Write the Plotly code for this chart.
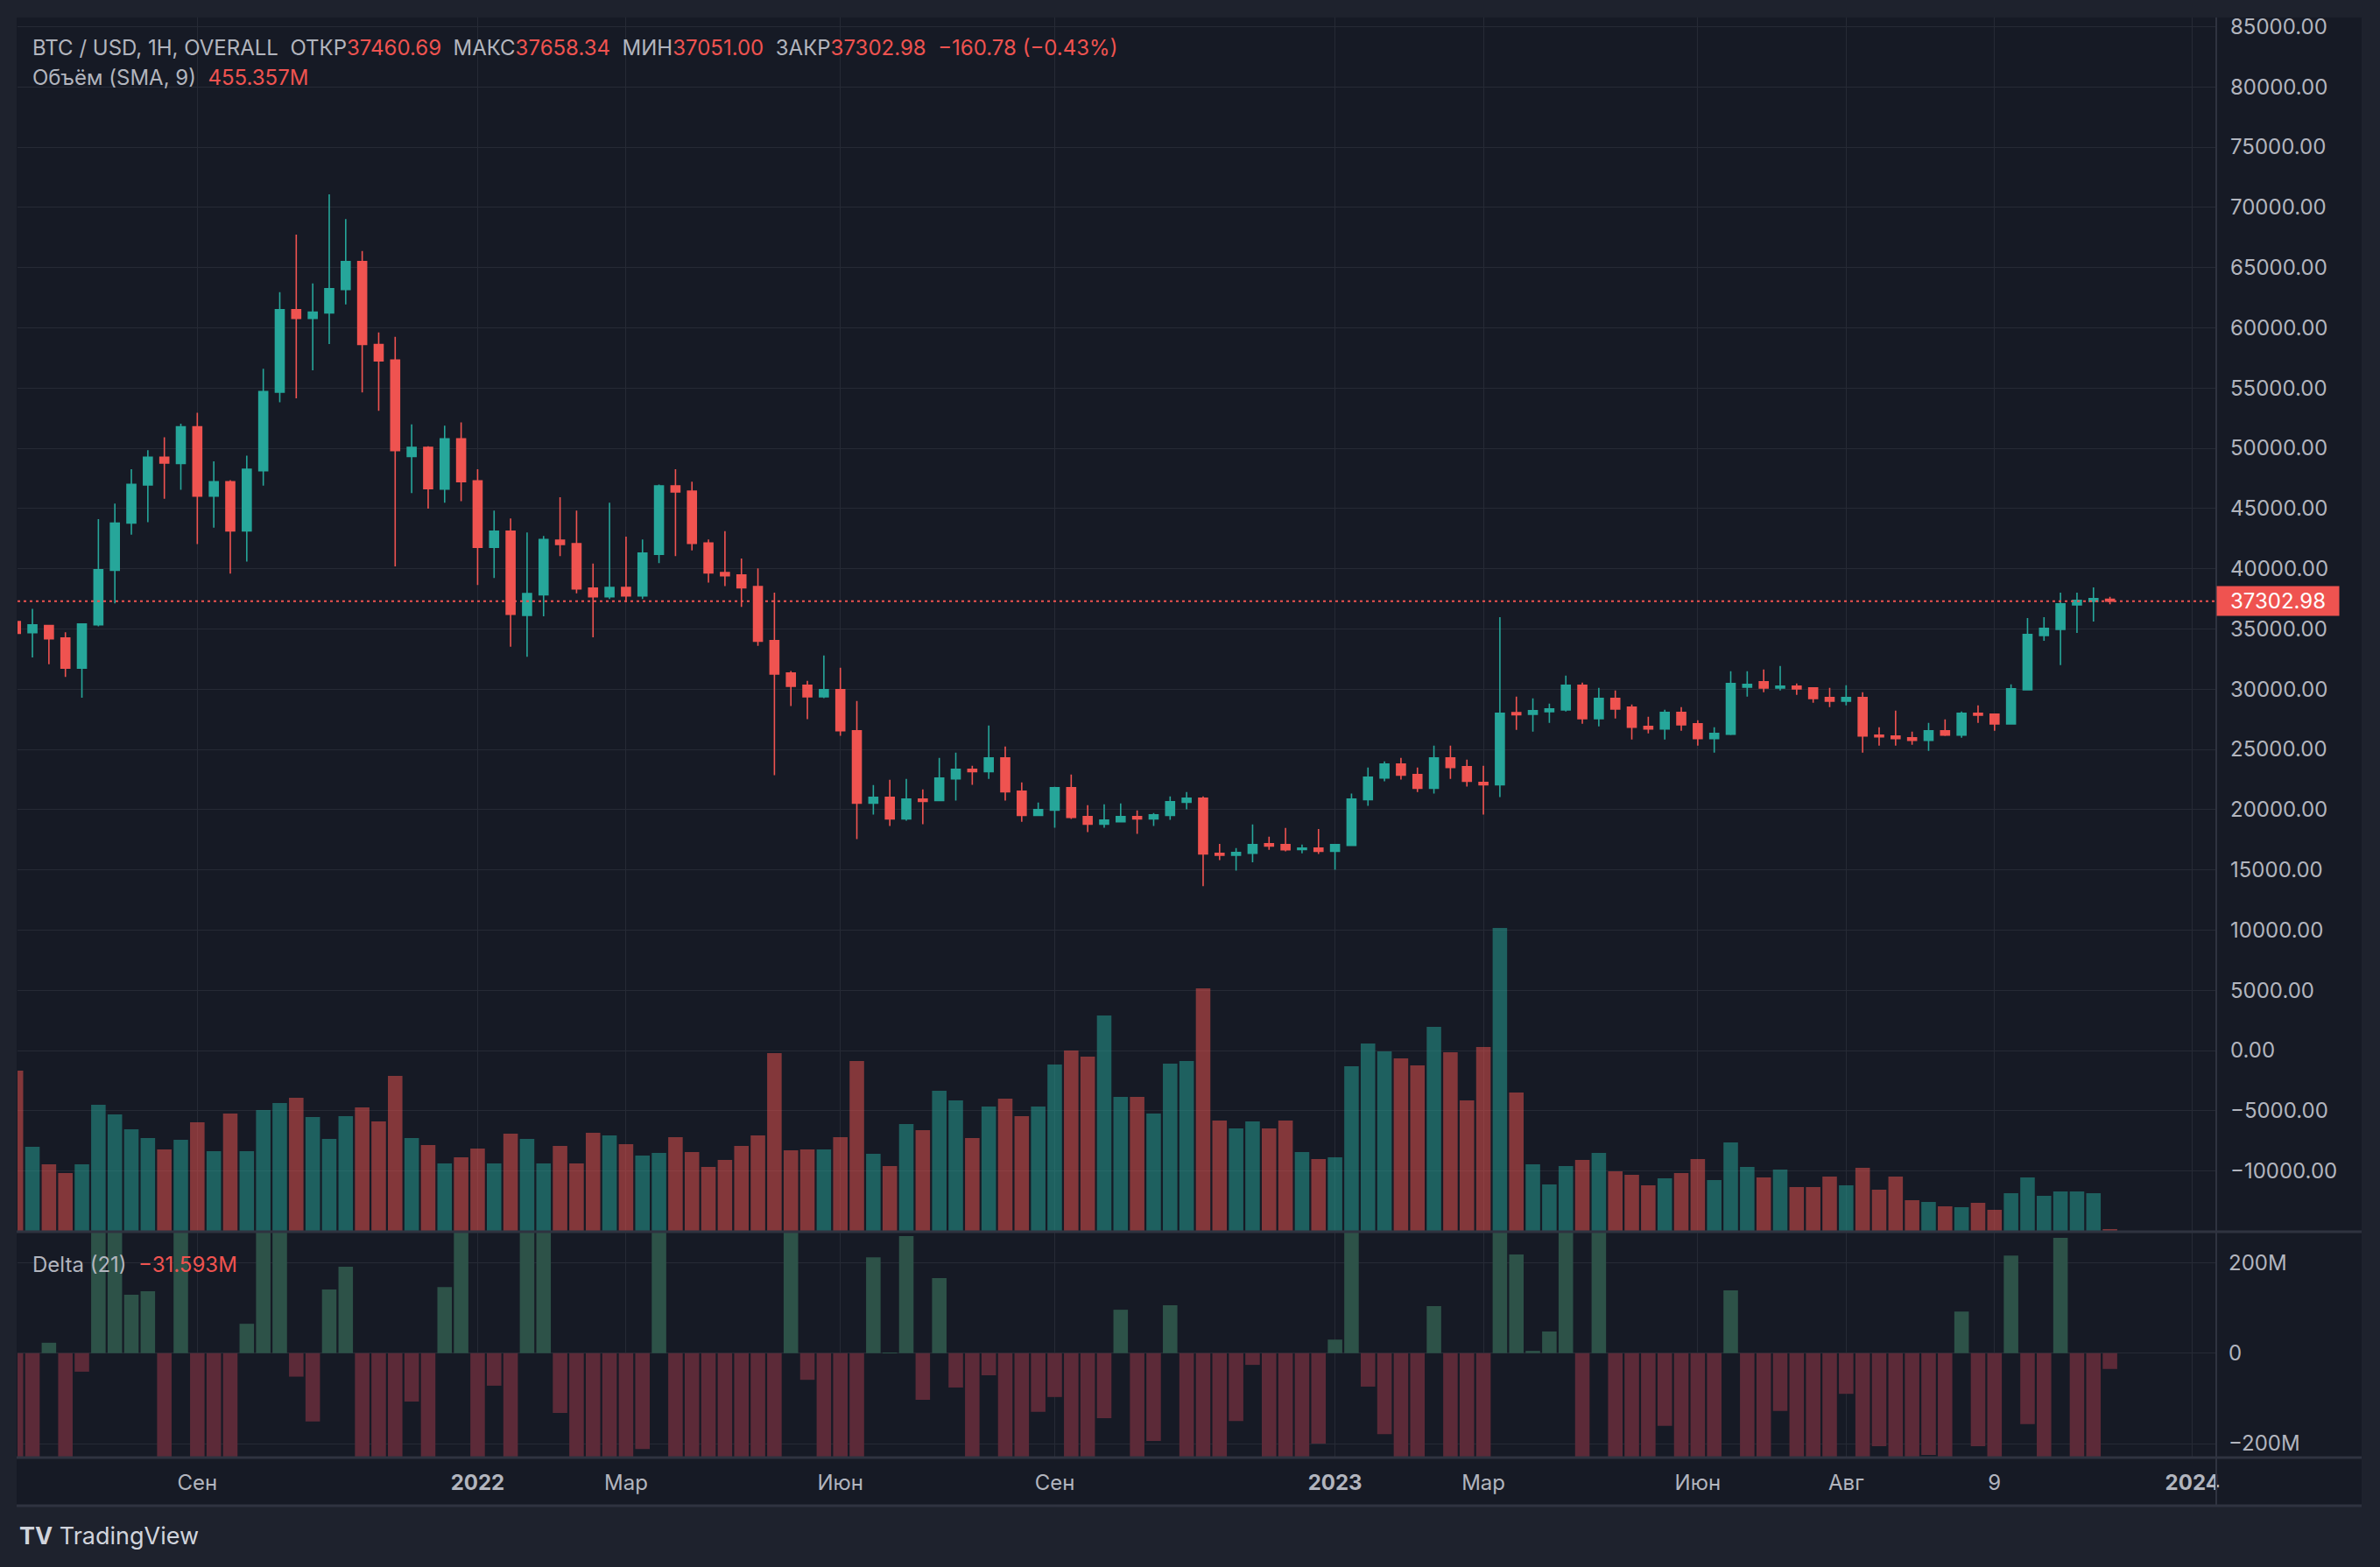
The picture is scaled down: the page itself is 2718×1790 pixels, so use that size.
import pandas as pd
import plotly.graph_objects as go

# weekly BTC/USD candles (first bar week of 2021-06-21)
opens = [35600, 34695, 35277, 34242, 31750, 35342, 39872, 43788, 46960, 49257,
         48740, 51782, 46021, 47218, 43141, 48124, 54661, 61489, 60777, 61230,
         63172, 65502, 58609, 57315, 49322, 50066, 46604, 50778, 47283, 41782,
         43108, 36119, 37834, 42365, 42073, 38384, 37672, 38449, 37737, 41200,
         46863, 46442, 42138, 39678, 39484, 38513, 34020, 31333, 30316, 29372,
         29953, 26539, 20535, 21019, 19228, 20874, 20753, 22545, 23343, 23150,
         24288, 21527, 19518, 19954, 21818, 19421, 18792, 18986, 19421, 19228,
         19518, 20608, 20947, 16371, 16202, 16371, 17170, 17097, 16686, 16807,
         16541, 17024, 20826, 22617, 23779, 22908, 21770, 24288, 23562, 22254,
         22060, 28040, 27919, 28137, 28282, 30316, 27556, 29227, 28500, 26903,
         26685, 28064, 27120, 25886, 26249, 30171, 30606, 30098, 30243, 30098,
         29300, 29009, 29300, 26176, 26104, 25958, 25740, 26539, 26176, 27992,
         27919, 27120, 29953, 34456, 34964, 36998, 37288, 37460.69]
highs = [36200, 36670, 35342, 34727, 35472, 44111, 45406, 48254, 49840, 50908,
         52040, 52946, 48901, 47348, 49387, 56603, 62946, 67735, 63690, 71068,
         69029, 66376, 59612, 59256, 51976, 50163, 51879, 52137, 48254, 44823,
         44176, 43012, 42721, 45924, 44823, 40423, 45471, 42656, 42429, 46992,
         48254, 47218, 42429, 43108, 40843, 40034, 38015, 31500, 30679, 32786,
         31769, 29009, 22036, 22472, 22545, 21673, 24288, 24723, 23634, 26975,
         25232, 22254, 20584, 21891, 22908, 20366, 20438, 20511, 19930, 19712,
         21091, 21455, 21091, 17146, 16807, 18768, 17751, 18478, 17097, 18381,
         17150, 21334, 23489, 23997, 24288, 23489, 25305, 25305, 24143, 23634,
         35981, 29372, 29227, 28791, 31115, 30534, 30098, 29881, 28718, 27701,
         28282, 28500, 27411, 26830, 31478, 31478, 31623, 31914, 30461, 30150,
         30098, 30316, 29735, 26830, 28210, 26467, 27193, 27483, 28137, 28645,
         27950, 30389, 35909, 35981, 38015, 38015, 38451, 37658.34]
lows = [33800, 32623, 32074, 31006, 29291, 35213, 37122, 42818, 43853, 45795,
        46539, 42041, 43400, 39581, 40585, 46895, 53820, 54144, 56474, 58642,
        61942, 54629, 53108, 40196, 46280, 44985, 45471, 45600, 38643, 39225,
        33530, 32689, 36054, 41038, 37963, 34307, 37478, 37219, 37478, 40455,
        41038, 41523, 38837, 38546, 36831, 33595, 22860, 28597, 27508, 29251,
        26128, 17557, 19590, 18647, 19083, 18792, 20700, 20753, 22060, 22545,
        20753, 18986, 19450, 18502, 19228, 18138, 18502, 18950, 17993, 18647,
        19155, 20027, 13636, 15815, 14943, 15621, 16662, 16541, 16371, 16323,
        15015, 17000, 20317, 22351, 22496, 21455, 21334, 22545, 21915, 19591,
        21044, 26612, 26467, 27193, 28137, 27120, 26903, 27556, 25813, 26322,
        25813, 26539, 25305, 24724, 26176, 29372, 29735, 29881, 29517, 28864,
        28500, 28645, 24724, 25305, 25305, 25377, 24869, 26104, 25958, 27193,
        26539, 27100, 29881, 34020, 31987, 34674, 35618, 37051.00]
closes = [34630, 35342, 34177, 31750, 35407, 39904, 43788, 46992, 49257, 48772,
          51782, 46021, 47218, 43141, 48254, 54694, 61489, 60777, 61295, 63237,
          65502, 58609, 57250, 49807, 50066, 46636, 50778, 47218, 41782, 43108,
          36216, 37931, 42429, 42009, 38320, 37672, 38449, 37737, 41297, 46863,
          46378, 42106, 39646, 39419, 38416, 33983, 31260, 30243, 29372, 29953,
          26539, 20535, 21019, 19228, 20874, 20680, 22617, 23343, 23150, 24288,
          21479, 19518, 20002, 21818, 19349, 18792, 19131, 19421, 19228, 19567,
          20656, 20947, 16323, 16202, 16444, 17097, 16976, 16662, 16807, 16541,
          17097, 20874, 22690, 23779, 22859, 21770, 24288, 23489, 22351, 22060,
          27992, 27870, 28210, 28355, 30316, 27556, 29227, 28355, 26830, 26685,
          28064, 27047, 25886, 26322, 30461, 30389, 30098, 30243, 30026, 29227,
          29009, 29300, 26104, 26031, 25886, 25740, 26539, 26176, 27992, 27847,
          27120, 30026, 34529, 35037, 37071, 37361, 37506, 37302.98]

# weekly volume, millions
volume = [2196, 1152, 912, 792, 912, 1728, 1596, 1392, 1272, 1116,
          1248, 1488, 1092, 1608, 1092, 1656, 1752, 1824, 1560, 1260,
          1572, 1692, 1500, 2124, 1272, 1176, 924, 1008, 1128, 924,
          1332, 1260, 924, 1164, 924, 1344, 1308, 1188, 1032, 1068,
          1284, 1080, 876, 972, 1164, 1308, 2436, 1104, 1116, 1116,
          1284, 2328, 1056, 888, 1464, 1380, 1920, 1788, 1272, 1704,
          1812, 1572, 1704, 2280, 2472, 2388, 2952, 1836, 1836, 1608,
          2292, 2328, 3324, 1512, 1404, 1500, 1404, 1512, 1080, 984,
          1008, 2256, 2568, 2460, 2364, 2268, 2796, 2448, 1788, 2520,
          4152, 1896, 912, 636, 888, 972, 1068, 816, 768, 624,
          720, 792, 984, 696, 1212, 876, 732, 840, 600, 600,
          744, 624, 864, 564, 744, 420, 396, 336, 324, 384,
          288, 516, 732, 480, 540, 540, 516, 24]

# Delta (21), millions
delta = [-260, -270, 23, -255, -41, 290, 280, 129, 137, -250,
         275, -265, -250, -270, 65, 310, 285, -52, -151, 141,
         191, -260, -280, -255, -107, -265, 146, 295, -250, -72,
         -260, 300, 285, -132, -260, -275, -250, -265, -212, 280,
         -255, -270, -260, -280, -265, -250, -290, 275, -59, -255,
         -265, -270, 212, 1, 259, -103, 166, -76, -260, -49,
         -265, -250, -130, -97, -270, -255, -144, 96, -260, -194,
         106, -255, -275, -260, -150, -26, -265, -250, -270, -200,
         30, 290, -74, -179, -260, -255, 104, -265, -250, -270,
         320, 218, 5, 48, 285, -260, 275, -255, -265, -250,
         -161, -260, -270, -255, 139, -265, -250, -128, -260, -255,
         -270, -90, -260, -206, -255, -265, -225, -250, 92, -206,
         -260, 216, -157, -255, 255, -265, -250, -35]

dates = pd.date_range("2021-06-21", periods=len(opens), freq="7D")

tick_dates = ["2021-09-06", "2022-01-03", "2022-03-07", "2022-06-06", "2022-09-05",
              "2023-01-02", "2023-03-06", "2023-06-05", "2023-08-07", "2023-10-09",
              "2024-01-01"]
tick_text = ["Сен", "<b>2022</b>", "Мар", "Июн", "Сен", "<b>2023</b>", "Мар",
             "Июн", "Авг", "9", "<b>2024</b>"]

UP = "#26a69a"
DOWN = "#ef5350"
BG = "#161a25"
OUTER = "#1e222d"
GRID = "#262a35"
SEP = "#2f3340"
TXT = "#b2b5be"
FONT = "Inter"
FS = 24

vol_colors = ["rgba(38,166,154,0.5)" if c >= o else "rgba(239,83,80,0.5)"
              for o, c in zip(opens, closes)]
delta_colors = ["#2d5248" if d >= 0 else "#5c2a38" for d in delta]

W, H = 2718, 1790
ML, MR, MT, MB = 20, 187, 20, 126
PW, PH = W - ML - MR, H - MT - MB


def px(X):
    return (X - ML) / PW


def py(Y):
    return (H - MB - Y) / PH


fig = go.Figure()

fig.add_trace(go.Bar(x=dates, y=volume, marker_color=vol_colors, marker_line_width=0,
                     xaxis="x", yaxis="y", hoverinfo="skip"))
fig.add_trace(go.Candlestick(
    x=dates, open=opens, high=highs, low=lows, close=closes,
    xaxis="x", yaxis="y3",
    increasing=dict(line=dict(color=UP, width=1.6), fillcolor=UP),
    decreasing=dict(line=dict(color=DOWN, width=1.6), fillcolor=DOWN),
))
fig.add_trace(go.Bar(x=dates, y=delta, marker_color=delta_colors, marker_line_width=0,
                     xaxis="x2", yaxis="y2", hoverinfo="skip"))

xrange = ["2021-06-21 16:00", "2024-01-11 03:00"]
main_dom = [py(1406), 1]
delta_dom = [0, py(1408)]

fig.update_layout(
    width=W, height=H,
    margin=dict(l=ML, r=MR, t=MT, b=MB),
    paper_bgcolor=OUTER, plot_bgcolor=BG,
    showlegend=False,
    bargap=0.12, boxgap=0.24,
    font=dict(family=FONT, size=FS, color=TXT),
    xaxis=dict(range=xrange, domain=[0, 1], anchor="y", rangeslider=dict(visible=False),
               tickvals=tick_dates, showticklabels=False, showgrid=True,
               gridcolor=GRID, gridwidth=1, zeroline=False, showline=False),
    xaxis2=dict(range=xrange, domain=[0, 1], anchor="y2", matches="x",
                tickvals=tick_dates, ticktext=tick_text, showgrid=True,
                gridcolor=GRID, gridwidth=1, ticks="", ticklabelstandoff=13,
                tickfont=dict(size=FS, color=TXT), zeroline=False, showline=False),
    yaxis=dict(domain=main_dom, range=[0, 16632], visible=False, showgrid=False,
               fixedrange=True),
    yaxis3=dict(overlaying="y", side="right", anchor="x", range=[-14971, 85756],
                tick0=0, dtick=5000, tickformat=".2f", showgrid=True,
                gridcolor=GRID, gridwidth=1, zeroline=False, ticks="",
                ticklabelstandoff=15, tickfont=dict(size=FS, color=TXT)),
    yaxis2=dict(domain=delta_dom, side="right", anchor="x2", range=[-229, 266.6],
                tickvals=[-200, 0, 200], ticktext=["\u2212200M", "0", "200M"],
                showgrid=True, gridcolor=GRID, gridwidth=1, zeroline=False,
                ticks="", ticklabelstandoff=13, tickfont=dict(size=FS, color=TXT)),
)

shapes = [
    # chart frame background
    dict(type="rect", xref="paper", yref="paper", x0=px(19), x1=px(2697),
         y0=py(1720), y1=py(20), fillcolor=BG, line_width=0, layer="below"),
    # pane separators
    dict(type="line", xref="paper", yref="paper", x0=px(19), x1=px(2697),
         y0=py(1407), y1=py(1407), line=dict(color=SEP, width=3)),
    dict(type="line", xref="paper", yref="paper", x0=px(19), x1=px(2697),
         y0=py(1665), y1=py(1665), line=dict(color=SEP, width=3)),
    dict(type="line", xref="paper", yref="paper", x0=px(19), x1=px(2697),
         y0=py(1720), y1=py(1720), line=dict(color=SEP, width=3)),
    dict(type="line", xref="paper", yref="paper", x0=px(2531), x1=px(2531),
         y0=py(1720), y1=py(20), line=dict(color=SEP, width=2)),
    # last price line
    dict(type="line", xref="paper", yref="y3", x0=0, x1=1,
         y0=closes[-1], y1=closes[-1], line=dict(color=DOWN, width=2, dash="3px,4px")),
]
fig.update_layout(shapes=shapes)

red = "<span style='color:#ef5350'>%s</span>"
sp = "\u00a0\u00a0"
legend1 = ("BTC / USD, 1H, OVERALL" + sp + "ОТКР" + red % "37460.69" + sp + "МАКС"
           + red % "37658.34" + sp + "МИН" + red % "37051.00" + sp + "ЗАКР"
           + red % "37302.98" + sp + red % "\u2212160.78 (\u22120.43%)")
legend2 = "Объём (SMA, 9)" + sp + red % "455.357M"
legend3 = "Delta (21)" + sp + red % "\u221231.593M"

annotations = [
    dict(text=legend1, xref="paper", yref="paper", x=px(35), y=py(55),
         xanchor="left", yanchor="middle", showarrow=False,
         font=dict(size=FS, color=TXT)),
    dict(text=legend2, xref="paper", yref="paper", x=px(35), y=py(89),
         xanchor="left", yanchor="middle", showarrow=False,
         font=dict(size=FS, color=TXT)),
    dict(text=legend3, xref="paper", yref="paper", x=px(35), y=py(1444),
         xanchor="left", yanchor="middle", showarrow=False,
         font=dict(size=FS, color=TXT)),
    dict(text="37302.98", xref="paper", yref="y3", x=1, y=closes[-1],
         xanchor="left", yanchor="middle", showarrow=False, width=135, height=29,
         borderpad=2, bgcolor=DOWN, align="center",
         font=dict(size=FS, color="#ffffff")),
    dict(text="<b>TV</b> TradingView", xref="paper", yref="paper", x=px(20), y=py(1754),
         xanchor="left", yanchor="middle", showarrow=False,
         font=dict(size=27, color="#d1d4dc")),
]
fig.update_layout(annotations=annotations)

fig.write_html("out.html", config={"displayModeBar": False})

# drop the browser's default body margin so the figure sits at the page corner
with open("out.html", encoding="utf-8") as f:
    page = f.read()
page = page.replace("<body>", "<body style=\"margin:0;background:#1e222d\">", 1)
with open("out.html", "w", encoding="utf-8") as f:
    f.write(page)
